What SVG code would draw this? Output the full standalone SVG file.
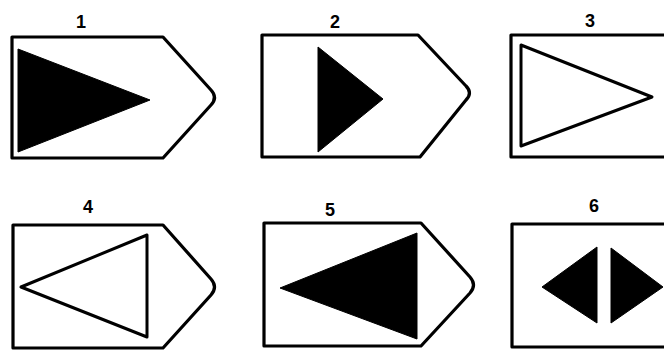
<svg xmlns="http://www.w3.org/2000/svg" width="664" height="352" viewBox="0 0 664 352">
<style>
.frame{fill:#fff;stroke:#000;stroke-width:3.2;stroke-linejoin:round}
.solid{fill:#000;stroke:#000;stroke-width:1;stroke-linejoin:round}
.open{fill:none;stroke:#000;stroke-width:3;stroke-linejoin:round}
.lbl{font-family:"Liberation Sans",Arial,sans-serif;font-weight:bold;font-size:18px;fill:#000;text-anchor:middle}
</style>
<rect width="664" height="352" fill="#fff"/>
<g id="fig1">
<path class="frame" d="M12,37 H163 L211,90 Q218,97.5 211,105 L163,158 H12 Z"/>
<polygon class="solid" points="18,49 150,100 18,152"/>
<text class="lbl" x="81" y="28">1</text>
</g>
<g id="fig2">
<path class="frame" d="M262,35 H418 L466,86 Q473,93 466,100 L420,157 H262 Z"/>
<polygon class="solid" points="318,47 383,99 318,152"/>
<text class="lbl" x="335" y="28">2</text>
</g>
<g id="fig3">
<rect class="frame" x="511" y="35" width="160" height="122"/>
<polygon class="open" points="521,45 652,97 521,146"/>
<text class="lbl" x="590" y="27">3</text>
</g>
<g id="fig4">
<path class="frame" d="M13,225 H163 L211,279 Q218,287 211,295 L163,348 H13 Z"/>
<polygon class="open" points="21,287 147,235 147,337"/>
<text class="lbl" x="88" y="213">4</text>
</g>
<g id="fig5">
<path class="frame" d="M264,223 H421 L470,277 Q477,285 470,293 L421,346 H264 Z"/>
<polygon class="solid" points="280,288 417,233 417,339"/>
<text class="lbl" x="330" y="216">5</text>
</g>
<g id="fig6">
<rect class="frame" x="512" y="224" width="160" height="123"/>
<polygon class="solid" points="542,287 597,247 597,323"/>
<polygon class="solid" points="611,248 663,287 611,323"/>
<text class="lbl" x="594" y="212">6</text>
</g>
<g id="connectors"/>
</svg>
